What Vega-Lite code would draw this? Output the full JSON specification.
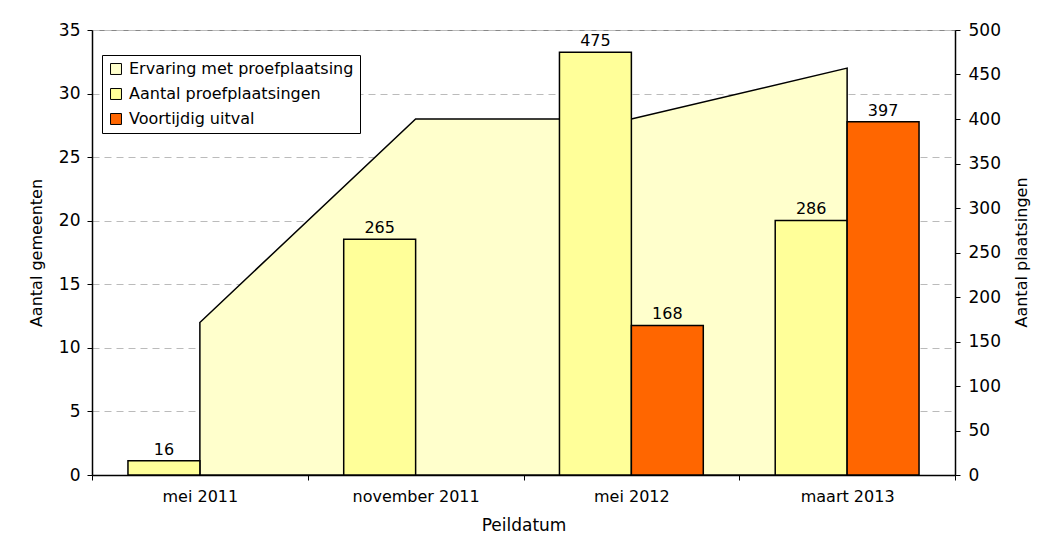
{
  "$schema": "https://vega.github.io/schema/vega-lite/v6.json",
  "width": 863,
  "height": 445,
  "autosize": "none",
  "padding": {"left": 92, "top": 30, "right": 82, "bottom": 82},
  "background": "white",
  "config": {
    "font": "DejaVu Sans",
    "view": {"stroke": "#888888", "strokeWidth": 1},
    "axis": {"labelFont": "DejaVu Sans", "titleFont": "DejaVu Sans", "labelColor": "black", "titleColor": "black", "labelFontSize": 16, "titleFontSize": 16, "titleFontWeight": "normal", "domainColor": "black", "tickColor": "black", "domainWidth": 1.5},
    "legend": {"labelFont": "DejaVu Sans", "labelFontSize": 16, "labelColor": "black", "labelLimit": 0}
  },
  "data": {
    "values": [
      {"peildatum": "mei 2011", "serie": "Ervaring met proefplaatsing", "waarde": 12},
      {"peildatum": "november 2011", "serie": "Ervaring met proefplaatsing", "waarde": 28},
      {"peildatum": "mei 2012", "serie": "Ervaring met proefplaatsing", "waarde": 28},
      {"peildatum": "maart 2013", "serie": "Ervaring met proefplaatsing", "waarde": 32},
      {"peildatum": "mei 2011", "serie": "Aantal proefplaatsingen", "waarde": 16},
      {"peildatum": "november 2011", "serie": "Aantal proefplaatsingen", "waarde": 265},
      {"peildatum": "mei 2012", "serie": "Aantal proefplaatsingen", "waarde": 475},
      {"peildatum": "maart 2013", "serie": "Aantal proefplaatsingen", "waarde": 286},
      {"peildatum": "mei 2012", "serie": "Voortijdig uitval", "waarde": 168},
      {"peildatum": "maart 2013", "serie": "Voortijdig uitval", "waarde": 397}
    ]
  },
  "encoding": {
    "x": {
      "field": "peildatum",
      "type": "nominal",
      "sort": ["mei 2011", "november 2011", "mei 2012", "maart 2013"],
      "scale": {"paddingInner": 0, "paddingOuter": 0},
      "axis": {"title": "Peildatum", "labelAngle": 0, "labelFontSize": 16, "titleFontSize": 17, "tickBand": "extent", "tickSize": 5, "labelPadding": 8, "titlePadding": 13}
    }
  },
  "layer": [
    {
      "transform": [{"filter": "datum.serie === 'Ervaring met proefplaatsing'"}],
      "mark": {"type": "area", "stroke": "black", "strokeWidth": 1.5, "opacity": 1, "fillOpacity": 1},
      "encoding": {
        "x": {"field": "peildatum", "type": "nominal", "sort": ["mei 2011", "november 2011", "mei 2012", "maart 2013"], "bandPosition": 0.5},
        "y": {
          "field": "waarde",
          "type": "quantitative",
          "scale": {"domain": [0, 35], "nice": false},
          "axis": {"title": "Aantal gemeenten", "values": [0, 5, 10, 15, 20, 25, 30, 35], "labelFontSize": 17, "titleFontSize": 16, "grid": true, "gridDash": [7, 5], "gridColor": "#bbbbbb", "tickSize": 5, "labelPadding": 7, "titlePadding": 14}
        },
        "fill": {
          "field": "serie",
          "type": "nominal",
          "scale": {"domain": ["Ervaring met proefplaatsing", "Aantal proefplaatsingen", "Voortijdig uitval"], "range": ["#FFFFCC", "#FFFF99", "#FF6600"]},
          "legend": {"title": null, "orient": "none", "legendX": 10, "legendY": 25, "symbolType": "square", "symbolSize": 120, "symbolStrokeColor": "black", "symbolStrokeWidth": 1, "symbolOpacity": 1, "strokeColor": "black", "fillColor": "white", "padding": 6, "rowPadding": 9, "labelOffset": 5, "labelLimit": 0, "labelFontSize": 16}
        }
      }
    },
    {
      "transform": [{"filter": "datum.serie !== 'Ervaring met proefplaatsing'"}],
      "layer": [
        {
          "mark": {"type": "bar", "stroke": "black", "strokeWidth": 1.5},
          "encoding": {
            "xOffset": {"field": "serie", "type": "nominal", "sort": ["Aantal proefplaatsingen", "Voortijdig uitval"], "scale": {"domain": ["Aantal proefplaatsingen", "Voortijdig uitval"], "paddingInner": 0, "paddingOuter": 0.5}},
            "y": {"field": "waarde", "type": "quantitative", "scale": {"domain": [0, 500], "nice": false},
              "axis": {"orient": "right", "title": "Aantal plaatsingen", "titleAngle": 270, "titleX": 66, "titleY": 222, "titleAlign": "center", "titleBaseline": "middle", "values": [0, 50, 100, 150, 200, 250, 300, 350, 400, 450, 500], "labelFontSize": 17, "titleFontSize": 16, "grid": false, "tickSize": 5, "labelPadding": 8}},
            "fill": {"field": "serie", "type": "nominal"}
          }
        },
        {
          "mark": {"type": "text", "baseline": "bottom", "dy": -3, "fontSize": 16, "color": "black"},
          "encoding": {
            "xOffset": {"field": "serie", "type": "nominal", "sort": ["Aantal proefplaatsingen", "Voortijdig uitval"]},
            "y": {"field": "waarde", "type": "quantitative"},
            "text": {"field": "waarde", "type": "quantitative"}
          }
        }
      ]
    }
  ],
  "resolve": {"scale": {"y": "independent"}}
}
